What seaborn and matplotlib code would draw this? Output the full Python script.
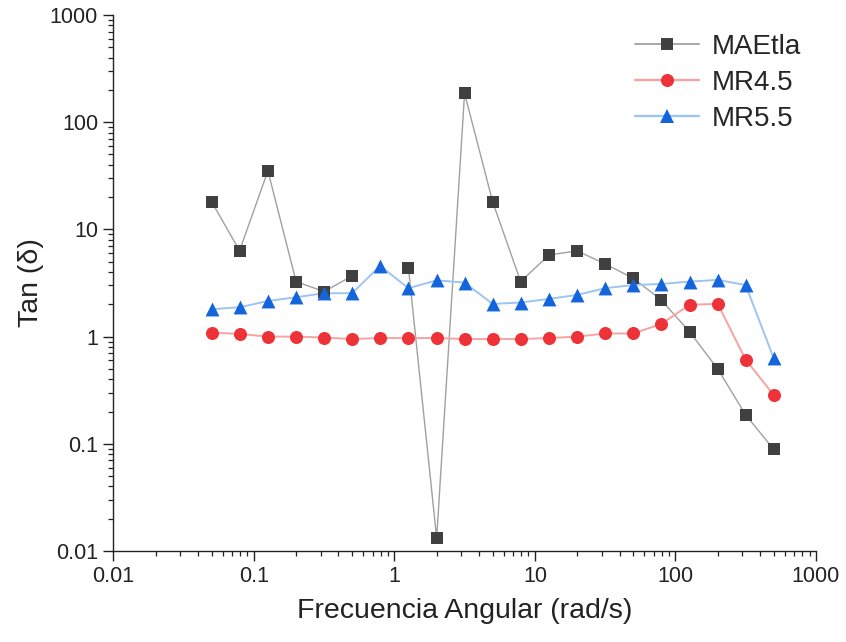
import numpy as np
import pandas as pd
import matplotlib
matplotlib.use('Agg')
import matplotlib.pyplot as plt
from matplotlib.lines import Line2D
from matplotlib.ticker import LogLocator, FixedLocator, NullFormatter
import seaborn as sns

# angular frequency (rad/s)
freq = [0.05, 0.0792, 0.126, 0.2, 0.316, 0.5, 0.792, 1.26, 2.0, 3.16, 5.0,
        7.92, 12.6, 20.0, 31.6, 50.0, 79.2, 126, 200, 316, 500]

# tan(delta) per sample (nan = point not shown)
maetla = [18.2, 6.34, 35.2, 3.26, 2.63, 3.68, np.nan, 4.35, 0.0132, 186, 18.2,
          3.26, 5.78, 6.3, 4.77, 3.51, 2.2, 1.11, 0.50, 0.186, 0.089]
mr45 = [1.09, 1.06, 1.00, 1.00, 0.98, 0.95, 0.97, 0.97, 0.97, 0.95, 0.95,
        0.95, 0.97, 1.0, 1.07, 1.07, 1.31, 1.98, 2.02, 0.61, 0.286]
mr55 = [1.80, 1.88, 2.15, 2.33, 2.54, 2.54, 4.57, 2.83, 3.35, 3.19, 2.02,
        2.08, 2.25, 2.45, 2.83, 3.03, 3.10, 3.26, 3.38, 3.03, 0.63]

samples = ['MAEtla', 'MR4.5', 'MR5.5']
series = [maetla, mr45, mr55]

line_col = {'MAEtla': '#a0a0a0', 'MR4.5': '#f5a3a3', 'MR5.5': '#9ec4f2'}
mark_col = {'MAEtla': '#404040', 'MR4.5': '#ee3338', 'MR5.5': '#1464dc'}
mark = {'MAEtla': 's', 'MR4.5': 'o', 'MR5.5': '^'}
msize = {'MAEtla': 8.4, 'MR4.5': 9.4, 'MR5.5': 10.0}
lw = {'MAEtla': 1.0, 'MR4.5': 1.4, 'MR5.5': 1.4}

rows = []
for name, vals in zip(samples, series):
    seg = 0
    for f, v in zip(freq, vals):
        if np.isnan(v):
            seg += 1  # break the line where a point is missing
            continue
        rows.append({'freq': f, 'tan': v, 'sample': name, 'seg': seg})
df = pd.DataFrame(rows)

sns.set_theme(style='ticks')
plt.rcParams['font.family'] = ['Liberation Sans', 'DejaVu Sans']

fig = plt.figure(figsize=(8.46, 6.42), dpi=100)
ax = fig.add_axes([0.1339, 0.1417, 0.8306, 0.8349])

for name in samples:
    d = df[df['sample'] == name]
    sns.lineplot(data=d, x='freq', y='tan', units='seg', estimator=None, sort=False,
                 color=line_col[name], linewidth=lw[name], ax=ax, legend=False)
    sns.scatterplot(data=d, x='freq', y='tan', marker=mark[name], color=mark_col[name],
                    s=msize[name] ** 2, linewidth=0, ax=ax, legend=False, zorder=3)

ax.set_xscale('log')
ax.set_yscale('log')
ax.set_xlim(0.01, 1000)
ax.set_ylim(0.01, 1000)

ax.xaxis.set_major_locator(FixedLocator([0.01, 0.1, 1, 10, 100, 1000]))
ax.yaxis.set_major_locator(FixedLocator([0.01, 0.1, 1, 10, 100, 1000]))
ax.xaxis.set_major_formatter(matplotlib.ticker.FuncFormatter(lambda v, p: f'{v:g}'))
ax.yaxis.set_major_formatter(matplotlib.ticker.FuncFormatter(lambda v, p: f'{v:g}'))
ax.xaxis.set_minor_locator(LogLocator(base=10, subs=np.arange(2, 10)))
ax.yaxis.set_minor_locator(LogLocator(base=10, subs=np.arange(2, 10)))
ax.xaxis.set_minor_formatter(NullFormatter())
ax.yaxis.set_minor_formatter(NullFormatter())

ax.tick_params(which='major', direction='out', length=7, width=1.0, labelsize=15.5,
               colors='#222222', pad=4)
ax.tick_params(which='minor', direction='out', length=3.5, width=0.9, colors='#222222')
sns.despine(ax=ax)
for sp in ['left', 'bottom']:
    ax.spines[sp].set_linewidth(1.0)
    ax.spines[sp].set_color('#222222')

ax.set_xlabel('Frecuencia Angular (rad/s)', fontsize=20.5, color='#222222', labelpad=8)
ax.set_ylabel('Tan (δ)', fontsize=20.5, color='#222222', labelpad=4)

handles = [Line2D([], [], color=line_col[n], linewidth=lw[n] + 0.3, marker=mark[n],
                  markersize=msize[n], markerfacecolor=mark_col[n],
                  markeredgewidth=0) for n in samples]
ax.legend(handles, samples, loc='upper left', bbox_to_anchor=(635 / 846, 1 - 34 / 642),
          bbox_transform=fig.transFigure, frameon=False, fontsize=20,
          handlelength=2.3, handletextpad=0.45, labelspacing=0.36, borderpad=0,
          borderaxespad=0)

fig.savefig('out.png', dpi=100)
